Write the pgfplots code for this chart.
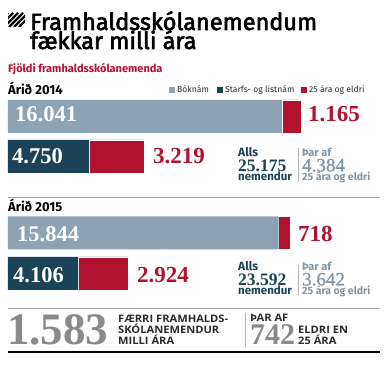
\documentclass[border=0pt]{standalone}
\usepackage{fontspec}
\setmainfont{Fira Sans}
\newfontfamily\serifnum{Liberation Serif}
\newfontfamily\serifmed{Liberation Serif}[FakeBold=0.9]
\newfontfamily\titlefont{Fira Sans}[FakeBold=2.5]
\newfontfamily\capsfont{Open Sans}[FakeStretch=1.08]
\usepackage{pgfplots}
\pgfplotsset{compat=1.18}
\definecolor{lightbar}{HTML}{8DA3B3}
\definecolor{darkbar}{HTML}{1B4257}
\definecolor{crim}{HTML}{B0122F}
\definecolor{blueg}{HTML}{7E95A6}
\definecolor{numgray}{HTML}{8A8A8A}
\definecolor{txt}{HTML}{2A2A2A}
\newcommand\vstack[5]{\vtop{\baselineskip=0pt\lineskip=0pt\lineskiplimit=-\maxdimen\hbox{#1}\vskip#4\hbox{#2}\vskip#5\hbox{#3}}}
\newcommand\vtwo[3]{\vtop{\baselineskip=0pt\lineskip=0pt\lineskiplimit=-\maxdimen\hbox{#1}\vskip#3\hbox{#2}}}
\tikzset{lab/.style={anchor=base west,inner sep=0}}
\begin{document}
\begin{tikzpicture}[x=1pt,y=1pt]
\useasboundingbox (0,0) rectangle (390,366);
\fill[white] (0,0) rectangle (390,366);
\begin{axis}[at={(0,0)},anchor=south west,scale only axis,
  width=390pt,height=366pt,xmin=-468,xmax=22365,ymin=0,ymax=366,
  hide axis,xbar stacked,bar width=33,clip=false]
\addplot[fill=lightbar,draw=none] coordinates {(16041,249.5) (0,209.5) (15844,133) (0,92.5)};
\addplot[fill=darkbar,draw=none] coordinates {(0,249.5) (4750,209.5) (0,133) (4106,92.5)};
\addplot[fill=crim,draw=white,line width=0.8pt] coordinates {(1165,249.5) (3219,209.5) (718,133) (2924,92.5)};
\end{axis}
% hatch icon
\begin{scope}
\clip (8,339) rectangle (25,353);
\foreach \i in {0,...,5} \draw[line width=2.2pt] ({-6+\i*5},339) -- ++(14,14);
\end{scope}
% title
\node[lab,font=\titlefont\fontsize{23.5}{23.5}\selectfont] at (30,336) {Framhaldsskólanemendum};
\node[lab,font=\titlefont\fontsize{23.5}{23.5}\selectfont] at (30,317) {fækkar milli ára};
\node[lab,text=crim,font=\bfseries\fontsize{11}{11}\selectfont] at (8,293) {Fjöldi framhaldsskólanemenda};
% 2014
\node[lab,font=\bfseries\fontsize{13}{13}\selectfont] at (8,271) {Árið 2014};
\fill[lightbar] (169,273) rectangle (175,279);
\node[lab,text=txt,font=\fontsize{8.6}{8.6}\selectfont] at (177,273) {Bóknám};
\fill[darkbar] (217,273) rectangle (223,279);
\node[lab,text=txt,font=\fontsize{8.6}{8.6}\selectfont] at (225,273) {Starfs- og listnám};
\fill[crim] (301,273) rectangle (307,279);
\node[lab,text=txt,font=\fontsize{8.6}{8.6}\selectfont] at (309,273) {25 ára og eldri};
\node[lab,text=white,font=\serifnum\bfseries\fontsize{22.5}{22.5}\selectfont] at (15,244) {16.041};
\node[lab,text=crim,font=\serifnum\bfseries\fontsize{23}{23}\selectfont] at (308,244) {1.165};
\node[lab,text=white,font=\serifnum\bfseries\fontsize{22.5}{22.5}\selectfont] at (12,202) {4.750};
\node[lab,text=crim,font=\serifnum\bfseries\fontsize{23}{23}\selectfont] at (153,202) {3.219};
\node[lab,text=darkbar] at (238,209) {\vstack{\bfseries\fontsize{12}{12}\selectfont Alls}{\serifnum\bfseries\fontsize{17.5}{17.5}\selectfont 25.175}{\bfseries\fontsize{11.5}{11.5}\selectfont nemendur}{14.5pt}{9.5pt}};
\draw[color=gray!60,line width=0.7pt] (298,218) -- (298,184);
\node[lab,text=blueg] at (302,209) {\vstack{\bfseries\fontsize{11}{11}\selectfont Þar af}{\serifmed\fontsize{19}{19}\selectfont 4.384}{\bfseries\fontsize{10.5}{10.5}\selectfont 25 ára og eldri}{14.5pt}{9.5pt}};
\draw[color=gray!70,line width=0.8pt] (8,169) -- (380,169);
% 2015
\node[lab,font=\bfseries\fontsize{13}{13}\selectfont] at (8,154) {Árið 2015};
\node[lab,text=white,font=\serifnum\bfseries\fontsize{22.5}{22.5}\selectfont] at (17,124) {15.844};
\node[lab,text=crim,font=\serifnum\bfseries\fontsize{23}{23}\selectfont] at (298,124) {718};
\node[lab,text=white,font=\serifnum\bfseries\fontsize{22.5}{22.5}\selectfont] at (13,83) {4.106};
\node[lab,text=crim,font=\serifnum\bfseries\fontsize{23}{23}\selectfont] at (137,83) {2.924};
\node[lab,text=darkbar] at (238,95) {\vstack{\bfseries\fontsize{12}{12}\selectfont Alls}{\serifnum\bfseries\fontsize{17.5}{17.5}\selectfont 23.592}{\bfseries\fontsize{11.5}{11.5}\selectfont nemendur}{14.5pt}{9.5pt}};
\draw[color=gray!60,line width=0.7pt] (298,101) -- (298,71);
\node[lab,text=blueg] at (302,95) {\vstack{\bfseries\fontsize{11}{11}\selectfont Þar af}{\serifmed\fontsize{19}{19}\selectfont 3.642}{\bfseries\fontsize{10.5}{10.5}\selectfont 25 ára og eldri}{14.5pt}{9.5pt}};
% bottom
\draw[color=gray!70,line width=0.8pt] (8,58) -- (380,58);
\node[lab,text=numgray,font=\serifnum\bfseries\fontsize{45}{45}\selectfont] at (7,21) {1.583};
\node[lab,text=txt,font=\capsfont\bfseries\fontsize{10.3}{10.3}\selectfont] at (118,43) {\vstack{FÆRRI FRAMHALDS-}{SKÓLANEMENDUR}{MILLI ÁRA}{11pt}{11pt}};
\draw[color=gray!60,line width=0.7pt] (245.5,53) -- (245.5,19);
\node[lab,text=txt] at (250,44) {\vtwo{\capsfont\bfseries\fontsize{10.3}{10.3}\selectfont ÞAR AF}{\color{numgray}\serifnum\bfseries\fontsize{30}{30}\selectfont 742}{23pt}};
\node[lab,text=txt,font=\capsfont\bfseries\fontsize{10.3}{10.3}\selectfont] at (298,32) {\vtwo{ELDRI EN}{25 ÁRA}{11pt}};
\draw[color=black,line width=2pt] (8,13.5) -- (380,13.5);
\end{tikzpicture}
\end{document}
